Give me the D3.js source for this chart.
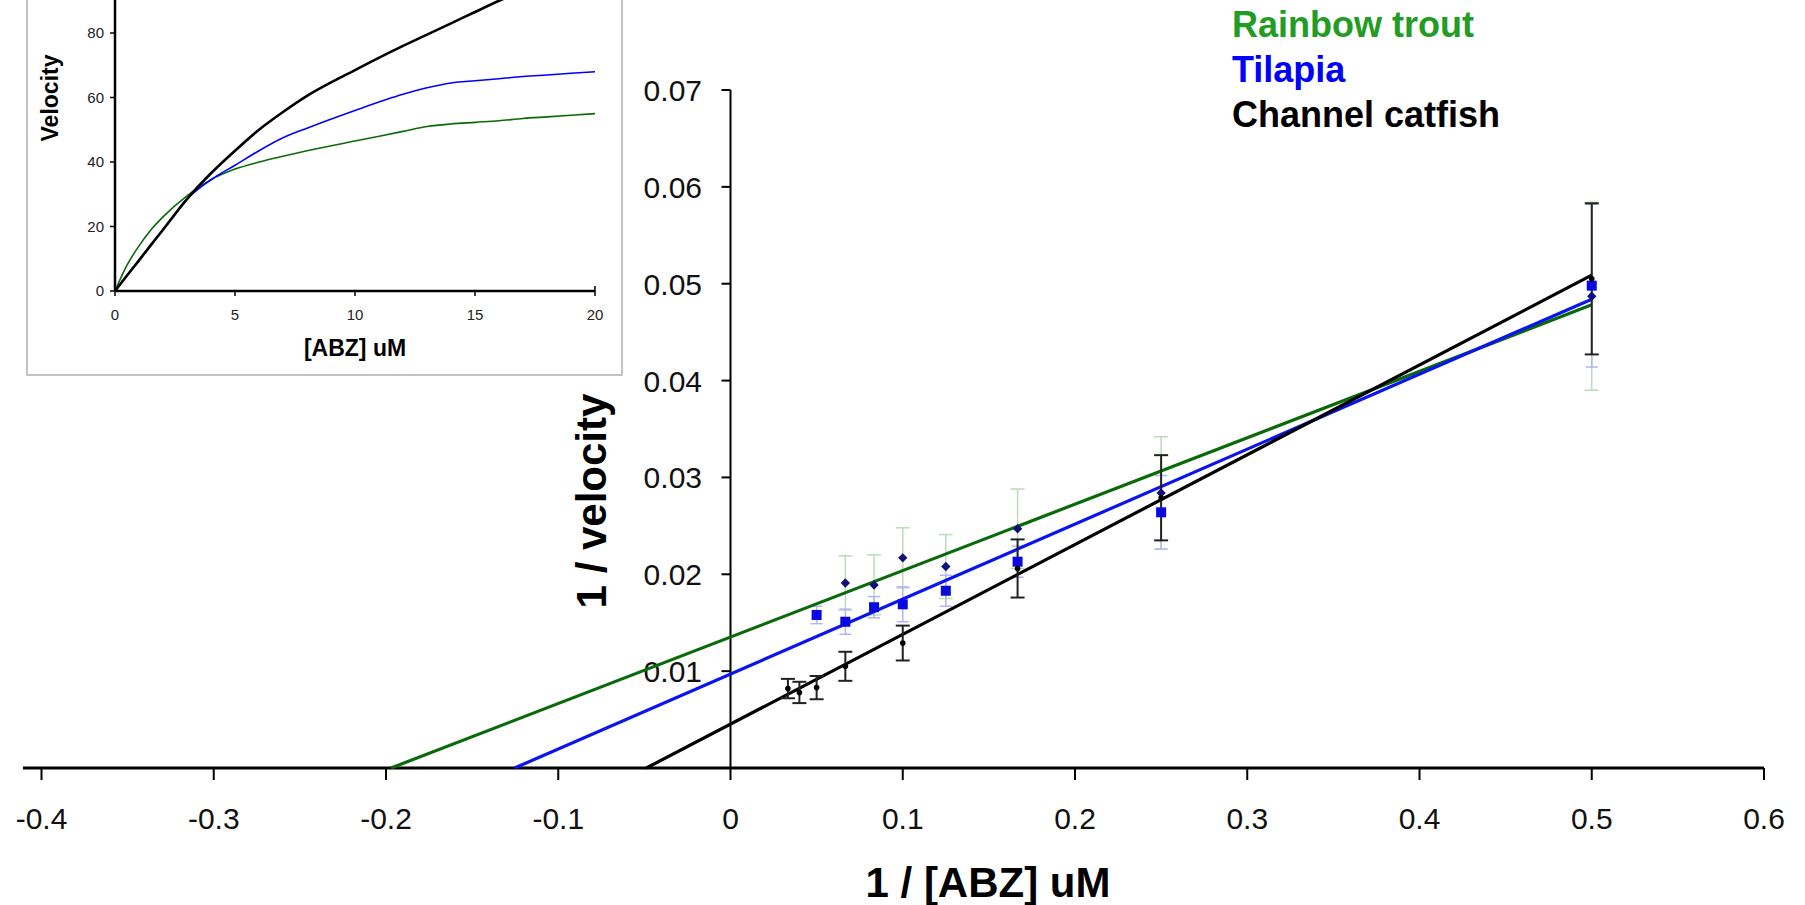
<!DOCTYPE html>
<html>
<head>
<meta charset="utf-8">
<script src="https://cdn.jsdelivr.net/npm/d3@7"></script>
<style>
  html, body { margin: 0; padding: 0; background: #fff; }
  svg { display: block; font-family: "Liberation Sans", Arial, sans-serif; }
</style>
</head>
<body>
<svg id="chart" width="1805" height="905"></svg>
<script>
// ---- Lineweaver-Burk plot: 1/velocity vs 1/[ABZ] ----
const speciesNames = ["Rainbow trout", "Tilapia", "Channel catfish"];
const legendColors = ["#229c22", "#0000ff", "#000000"];
const lineColors = ["#0a6a0a", "#0a14f0", "#000000"];

// fitted double-reciprocal lines (intercept = 1/Vmax, slope = Km/Vmax)
const fitIntercepts = [0.01352, 0.0097, 0.00453];
const fitSlopes = [0.0686, 0.0774, 0.0927];
const fitEndX = 0.5;

// Rainbow trout (diamonds)
const troutX = [1/15, 1/12, 1/10, 1/8, 1/6, 1/4, 1/2];
const troutY = [0.0191, 0.0189, 0.0217, 0.0208, 0.0247, 0.0284, 0.0487];
const troutErr = [0.0028, 0.0031, 0.0031, 0.0033, 0.0041, 0.0058, 0.0097];

// Tilapia (squares)
const tilapiaX = [1/20, 1/15, 1/12, 1/10, 1/8, 1/6, 1/4, 1/2];
const tilapiaY = [0.0158, 0.0151, 0.0166, 0.0169, 0.0183, 0.0213, 0.0264, 0.0498];
const tilapiaErr = [0.0009, 0.0013, 0.0011, 0.0018, 0.0016, 0.0016, 0.0038, 0.0084];

// Channel catfish (dots)
const catfishX = [1/30, 1/25, 1/20, 1/15, 1/10, 1/6, 1/4, 1/2];
const catfishY = [0.0082, 0.0078, 0.0083, 0.0105, 0.0129, 0.0206, 0.0279, 0.0505];
const catfishErr = [0.0010, 0.0011, 0.0012, 0.0015, 0.0018, 0.0030, 0.0044, 0.0078];

const xTicks = [-0.4, -0.3, -0.2, -0.1, 0, 0.1, 0.2, 0.3, 0.4, 0.5, 0.6];
const xTickLabels = ["-0.4", "-0.3", "-0.2", "-0.1", "0", "0.1", "0.2", "0.3", "0.4", "0.5", "0.6"];
const yTicks = [0.01, 0.02, 0.03, 0.04, 0.05, 0.06, 0.07];
const yTickLabels = ["0.01", "0.02", "0.03", "0.04", "0.05", "0.06", "0.07"];

// ---- Inset: Michaelis-Menten velocity curves ----
const insetConc = [0, 0.5, 1, 1.5, 2, 3, 4, 5, 6, 7, 8, 10, 12, 13, 14, 15, 16, 17, 18, 20];
const insetTrout = [0, 8, 14, 19, 23, 29.5, 34.5, 37.8, 40, 41.8, 43.5, 46.5, 49.5, 51, 51.8, 52.3, 52.8, 53.5, 54, 55];
const insetTilapia = [0, 4.8, 9.5, 14.3, 19, 28.5, 34.5, 39, 43.5, 47.5, 50.5, 56, 61, 63, 64.5, 65.2, 65.8, 66.5, 67, 68];
const insetCatfish = [0, 4.8, 9.5, 14.3, 19, 28.5, 36.5, 43.5, 50, 55.5, 60.5, 68.5, 76, 79.5, 83, 86.5, 90, 93, 96, 102];
const insetXTicks = [0, 5, 10, 15, 20];
const insetYTicks = [0, 20, 40, 60, 80];

const svg = d3.select("#chart");

// ---------- main plot ----------
const x = d3.scaleLinear().domain([-0.4, 0.6]).range([41.5, 1764]);
const y = d3.scaleLinear().domain([0, 0.07]).range([768, 90]);

// x axis
const xAxis = svg.append("g");
xAxis.append("line")
  .attr("x1", 23).attr("x2", x(0.6)).attr("y1", y(0)).attr("y2", y(0))
  .attr("stroke", "#000").attr("stroke-width", 3);
xAxis.selectAll("line.tick").data(xTicks).join("line")
  .attr("class", "tick")
  .attr("x1", d => x(d)).attr("x2", d => x(d))
  .attr("y1", y(0)).attr("y2", y(0) + 12)
  .attr("stroke", "#000").attr("stroke-width", 2);
xAxis.selectAll("text").data(xTicks).join("text")
  .attr("x", d => x(d)).attr("y", 829)
  .attr("text-anchor", "middle")
  .attr("font-size", 30).attr("fill", "#111")
  .text((d, i) => xTickLabels[i]);

// y axis
const yAxis = svg.append("g");
yAxis.append("line")
  .attr("x1", x(0)).attr("x2", x(0)).attr("y1", y(0)).attr("y2", y(0.07))
  .attr("stroke", "#000").attr("stroke-width", 2);
yAxis.selectAll("line.tick").data(yTicks).join("line")
  .attr("class", "tick")
  .attr("x1", x(0) - 9).attr("x2", x(0))
  .attr("y1", d => y(d)).attr("y2", d => y(d))
  .attr("stroke", "#000").attr("stroke-width", 2);
yAxis.selectAll("text").data(yTicks).join("text")
  .attr("x", 702).attr("y", d => y(d) + 11)
  .attr("text-anchor", "end")
  .attr("font-size", 30).attr("fill", "#111")
  .text((d, i) => yTickLabels[i]);

// axis titles
svg.append("text")
  .attr("x", 988).attr("y", 897)
  .attr("text-anchor", "middle")
  .attr("font-size", 42).attr("font-weight", "bold")
  .text("1 / [ABZ] uM");
svg.append("text")
  .attr("transform", "translate(606,501) rotate(-90)")
  .attr("text-anchor", "middle")
  .attr("font-size", 42).attr("font-weight", "bold")
  .text("1 / velocity");

// error bars helper
function errorBars(xs, ys, es, color, width, capHalf) {
  const g = svg.append("g").attr("stroke", color).attr("stroke-width", width).attr("fill", "none");
  const data = xs.map((xv, i) => ({ x: xv, y: ys[i], e: es[i] }));
  g.selectAll("line.v").data(data).join("line")
    .attr("x1", d => x(d.x)).attr("x2", d => x(d.x))
    .attr("y1", d => y(d.y + d.e)).attr("y2", d => y(d.y - d.e));
  g.selectAll("line.top").data(data).join("line")
    .attr("x1", d => x(d.x) - capHalf).attr("x2", d => x(d.x) + capHalf)
    .attr("y1", d => y(d.y + d.e)).attr("y2", d => y(d.y + d.e));
  g.selectAll("line.bot").data(data).join("line")
    .attr("x1", d => x(d.x) - capHalf).attr("x2", d => x(d.x) + capHalf)
    .attr("y1", d => y(d.y - d.e)).attr("y2", d => y(d.y - d.e));
}

// faint bars for trout and tilapia
errorBars(troutX, troutY, troutErr, "#b9dcb9", 1.5, 7);
errorBars(tilapiaX, tilapiaY, tilapiaErr, "#b4b4f2", 1.5, 6);

// fitted lines, from the x-intercept to x = 0.5
const fits = speciesNames.map((name, i) => {
  const x0 = -fitIntercepts[i] / fitSlopes[i];
  return [[x0, 0], [fitEndX, fitIntercepts[i] + fitSlopes[i] * fitEndX]];
});
const fitLine = d3.line().x(d => x(d[0])).y(d => y(d[1]));
svg.append("g").selectAll("path").data(fits).join("path")
  .attr("d", fitLine)
  .attr("fill", "none")
  .attr("stroke", (d, i) => lineColors[i])
  .attr("stroke-width", 3.2);

// catfish bars on top
errorBars(catfishX, catfishY, catfishErr, "#222", 2, 7);

// markers: diamonds as squares turned 45 degrees
svg.append("g").selectAll("path").data(troutX).join("path")
  .attr("d", d3.symbol().type(d3.symbolSquare).size(44))
  .attr("transform", (d, i) => `translate(${x(d)},${y(troutY[i])}) rotate(45)`)
  .attr("fill", "#10107a");
svg.append("g").selectAll("rect").data(tilapiaX).join("rect")
  .attr("x", d => x(d) - 5).attr("y", (d, i) => y(tilapiaY[i]) - 5)
  .attr("width", 10).attr("height", 10)
  .attr("fill", "#0a0ae0");
svg.append("g").selectAll("circle").data(catfishX).join("circle")
  .attr("cx", d => x(d)).attr("cy", (d, i) => y(catfishY[i]))
  .attr("r", 2.8).attr("fill", "#000");

// legend
svg.append("g").selectAll("text").data(speciesNames).join("text")
  .attr("x", 1232).attr("y", (d, i) => 37 + i * 45)
  .attr("font-size", 36).attr("font-weight", "bold")
  .attr("fill", (d, i) => legendColors[i])
  .text(d => d);

// ---------- inset ----------
const inset = svg.append("g");
inset.append("rect")
  .attr("x", 27).attr("y", -80).attr("width", 595).attr("height", 455)
  .attr("fill", "#fff").attr("stroke", "#b0b0b0").attr("stroke-width", 1.5);

const xi = d3.scaleLinear().domain([0, 20]).range([115, 595]);
const yi = d3.scaleLinear().domain([0, 80]).range([291, 33]);

inset.append("line")
  .attr("x1", xi(0)).attr("x2", xi(0)).attr("y1", yi(0)).attr("y2", yi(110))
  .attr("stroke", "#000").attr("stroke-width", 2.5);
inset.append("line")
  .attr("x1", xi(0)).attr("x2", xi(20)).attr("y1", yi(0)).attr("y2", yi(0))
  .attr("stroke", "#000").attr("stroke-width", 2.5);
inset.selectAll("line.yt").data(insetYTicks).join("line")
  .attr("class", "yt")
  .attr("x1", xi(0) - 5).attr("x2", xi(0))
  .attr("y1", d => yi(d)).attr("y2", d => yi(d))
  .attr("stroke", "#000").attr("stroke-width", 1.5);
inset.selectAll("line.xt").data(insetXTicks).join("line")
  .attr("class", "xt")
  .attr("x1", d => xi(d)).attr("x2", d => xi(d))
  .attr("y1", yi(0)).attr("y2", yi(0) + 5)
  .attr("stroke", "#000").attr("stroke-width", 1.5);
inset.append("line")
  .attr("x1", xi(20)).attr("x2", xi(20)).attr("y1", yi(0)).attr("y2", yi(0) - 5)
  .attr("stroke", "#000").attr("stroke-width", 1.5);
inset.selectAll("text.yl").data(insetYTicks).join("text")
  .attr("class", "yl")
  .attr("x", 104).attr("y", d => yi(d) + 5)
  .attr("text-anchor", "end").attr("font-size", 15).attr("fill", "#222")
  .text(d => d);
inset.selectAll("text.xl").data(insetXTicks).join("text")
  .attr("class", "xl")
  .attr("x", d => xi(d)).attr("y", 320)
  .attr("text-anchor", "middle").attr("font-size", 15).attr("fill", "#222")
  .text(d => d);
inset.append("text")
  .attr("x", xi(10)).attr("y", 356)
  .attr("text-anchor", "middle").attr("font-size", 23).attr("font-weight", "bold")
  .text("[ABZ] uM");
inset.append("text")
  .attr("transform", "translate(58,98) rotate(-90)")
  .attr("text-anchor", "middle").attr("font-size", 23).attr("font-weight", "bold")
  .text("Velocity");

const curve = d3.line().x((d, i) => xi(insetConc[i])).y(d => yi(d)).curve(d3.curveMonotoneX);
const insetSeries = [
  { v: insetTrout, c: lineColors[0], w: 1.6 },
  { v: insetTilapia, c: "#0000ff", w: 1.6 },
  { v: insetCatfish, c: "#000", w: 2.6 }
];
inset.selectAll("path.mm").data(insetSeries).join("path")
  .attr("class", "mm")
  .attr("d", d => curve(d.v))
  .attr("fill", "none")
  .attr("stroke", d => d.c)
  .attr("stroke-width", d => d.w);
</script>
</body>
</html>
